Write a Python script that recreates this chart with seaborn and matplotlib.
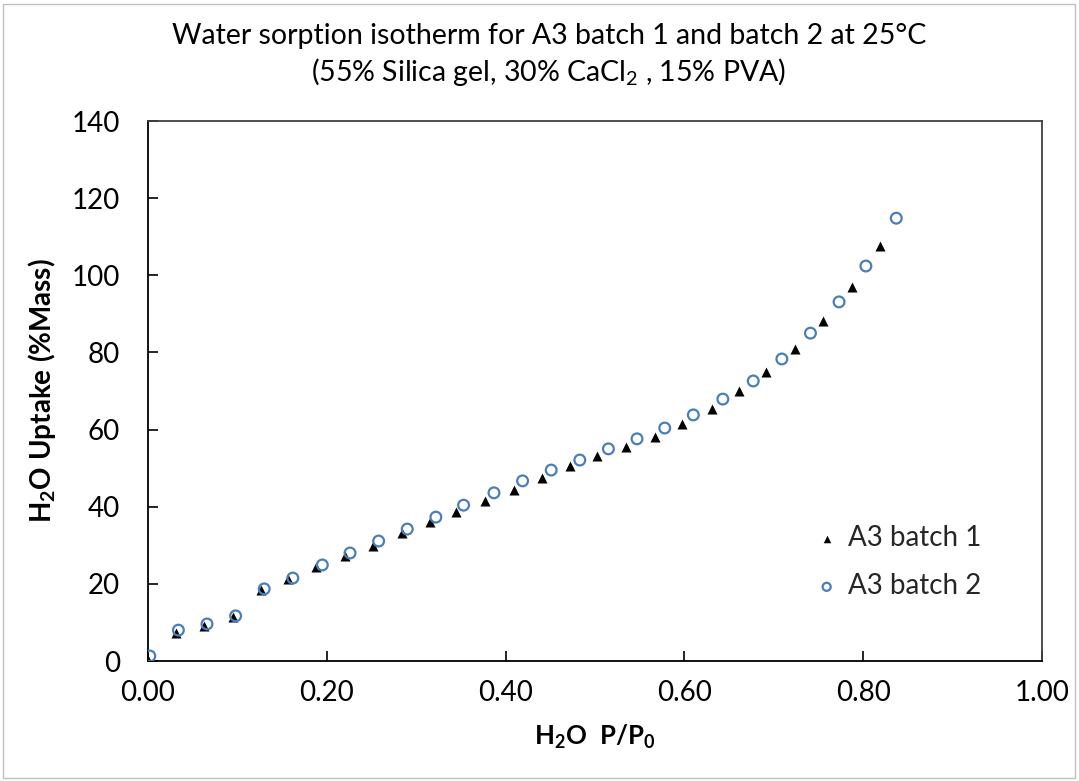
import matplotlib
matplotlib.use("Agg")
import matplotlib.pyplot as plt
import seaborn as sns
import pandas as pd
from matplotlib.patches import Rectangle

# ---- data ----
x_batch1 = [0.000, 0.031, 0.063, 0.095, 0.126, 0.157, 0.188, 0.220, 0.252, 0.284,
            0.315, 0.345, 0.377, 0.409, 0.441, 0.472, 0.502, 0.535, 0.567, 0.597,
            0.631, 0.661, 0.691, 0.724, 0.755, 0.787, 0.819]
y_batch1 = [0.3, 7.3, 9.1, 11.4, 18.4, 21.3, 24.4, 27.2, 29.8, 33.2,
            36.0, 38.6, 41.5, 44.3, 47.4, 50.6, 53.2, 55.5, 58.1, 61.4,
            65.3, 70.0, 74.9, 80.9, 88.2, 97.0, 107.6]
x_batch2 = [0.002, 0.034, 0.066, 0.098, 0.130, 0.162, 0.195, 0.226, 0.258, 0.290,
            0.322, 0.353, 0.387, 0.419, 0.451, 0.483, 0.515, 0.547, 0.578, 0.610,
            0.643, 0.677, 0.709, 0.741, 0.773, 0.803, 0.837]
y_batch2 = [1.3, 8.0, 9.6, 11.7, 18.7, 21.5, 24.9, 28.0, 31.1, 34.2,
            37.3, 40.4, 43.6, 46.7, 49.5, 52.1, 55.0, 57.6, 60.4, 63.8,
            67.9, 72.6, 78.3, 85.0, 93.1, 102.4, 114.8]
series_names = ["A3 batch 1", "A3 batch 2"]
x_ticks = [0.0, 0.2, 0.4, 0.6, 0.8, 1.0]
y_ticks = [0, 20, 40, 60, 80, 100, 120, 140]

sns.set_theme(style="white")
plt.rcParams['font.family'] = ['Lato', 'DejaVu Sans']
plt.rcParams['mathtext.fontset'] = 'custom'
plt.rcParams['mathtext.rm'] = 'Lato'
plt.rcParams['mathtext.it'] = 'Lato:italic'
plt.rcParams['mathtext.bf'] = 'Lato:bold'
plt.rcParams['mathtext.default'] = 'rm'

fig = plt.figure(figsize=(10.79, 7.81), dpi=100)
ax = fig.add_axes([148/1079, 1-661/781, (1042-148)/1079, (661-121)/781])

df1 = pd.DataFrame({"x": x_batch1, "y": y_batch1})
df2 = pd.DataFrame({"x": x_batch2, "y": y_batch2})
sns.scatterplot(data=df1, x="x", y="y", ax=ax, marker="^", s=52, color="black",
                edgecolor="black", linewidth=0, label=series_names[0], zorder=3)
sns.scatterplot(data=df2, x="x", y="y", ax=ax, marker="o", s=60, facecolor="none",
                edgecolor="#4A7EBB", linewidth=1.6, label=series_names[1], zorder=4)

ax.set_xlim(0, 1.0)
ax.set_ylim(0, 140)
ax.set_xticks(x_ticks)
ax.set_xticklabels([f"{v:.2f}" for v in x_ticks])
ax.set_yticks(y_ticks)
ax.set_yticklabels([str(v) for v in y_ticks])
ax.tick_params(axis='x', direction='in', length=7, width=1.2, colors='black',
               labelsize=20, pad=14, bottom=True, top=False)
ax.tick_params(axis='y', direction='in', length=7, width=1.2, colors='black',
               labelsize=20, pad=20, left=True, right=False)
for s in ax.spines.values():
    s.set_color('#404040')
    s.set_linewidth(1.3)
ax.spines['left'].set_color('black')
ax.spines['bottom'].set_color('black')

ax.set_xlabel(r'$\mathbf{H_2O\ \ P/P_0}$', fontsize=18.5, labelpad=12, color='black')
ax.set_ylabel(r'$\mathbf{H_2O\ Uptake\ (\%Mass)}$', fontsize=20, labelpad=10, color='black')

fig.text(549/1079, 1-36/781, 'Water sorption isotherm for A3 batch 1 and batch 2 at 25°C',
         ha='center', va='center', fontsize=20.5, color='black')
fig.text(549/1079, 1-72/781, r'(55% Silica gel, 30% CaCl$_2$ , 15% PVA)',
         ha='center', va='center', fontsize=20.5, color='black')

leg = ax.legend(loc='center left', bbox_to_anchor=(785/1079, 1-562/781),
                bbox_transform=fig.transFigure, frameon=False, fontsize=20,
                handletextpad=0.15, labelspacing=0.8, handlelength=1.2,
                markerscale=0.75)

fig.patches.append(Rectangle((3/1079, 3/781), 1-7/1079, 1-7/781, transform=fig.transFigure,
                             fill=False, edgecolor='#BFBFBF', linewidth=1.0))

fig.savefig("out.png", dpi=100)
